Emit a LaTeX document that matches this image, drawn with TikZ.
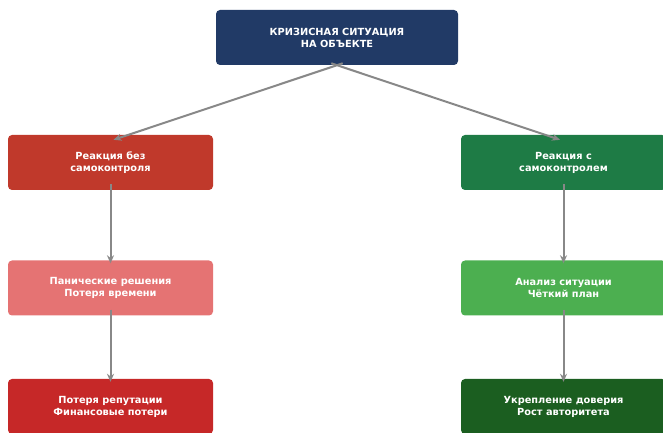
\documentclass[tikz,border=0pt]{standalone}
\usepackage{fontspec}
\setmainfont{DejaVu Sans}
\usetikzlibrary{positioning,arrows.meta}
\definecolor{crnavy}{HTML}{213A66}
\definecolor{crred}{HTML}{C0392B}
\definecolor{crpink}{HTML}{E57373}
\definecolor{crdeep}{HTML}{C62828}
\definecolor{crgreen}{HTML}{1E7B45}
\definecolor{crlight}{HTML}{4CAF50}
\definecolor{crdark}{HTML}{1B5E20}
\definecolor{crgray}{HTML}{888888}
\tikzset{
  box/.style   ={rounded corners=4pt, minimum width=205pt, minimum height=55pt,
                 inner sep=0pt, align=center, text=white,
                 font=\bfseries\fontsize{9.8}{12}\selectfont},
  head/.style  ={box, fill=crnavy, minimum width=242pt},
  flow/.style  ={-{Stealth[length=8pt,width=7pt]}, crgray, line width=2pt,
                 shorten <=-6pt},
}

\begin{document}
\begin{tikzpicture}[x=1pt,y=1pt]
  \useasboundingbox (0,0) rectangle (663,433);
  \clip (0,0) rectangle (663,433);
  \node[head] (crisis) at (337,395.5) {КРИЗИСНАЯ СИТУАЦИЯ\\НА ОБЪЕКТЕ};
  % left branch
  \node[box, fill=crred]   (noctrl)   at (110.5,270.5) {Реакция без\\самоконтроля};
  \node[box, fill=crpink]  (panic)    at (110.5,145)   {Панические решения\\Потеря времени};
  \node[box, fill=crdeep]  (loss)     at (110.5,26.5)  {Потеря репутации\\Финансовые потери};
  % right branch
  \node[box, fill=crgreen] (ctrl)     at (563.5,270.5) {Реакция с\\самоконтролем};
  \node[box, fill=crlight] (analysis) at (563.5,145)   {Анализ ситуации\\Чёткий план};
  \node[box, fill=crdark]  (trust)    at (563.5,26.5)  {Укрепление доверия\\Рост авторитета};
  \draw[flow] (crisis.south) -- ([xshift=3pt,yshift=-5pt]noctrl.north);
  \draw[flow] (crisis.south) -- ([xshift=-3.5pt,yshift=-5pt]ctrl.north);
  \foreach \a/\b in {noctrl/panic,panic/loss,ctrl/analysis,analysis/trust}
    \draw[flow,shorten >=-3pt] (\a.south) -- (\b.north);
\end{tikzpicture}
\end{document}
